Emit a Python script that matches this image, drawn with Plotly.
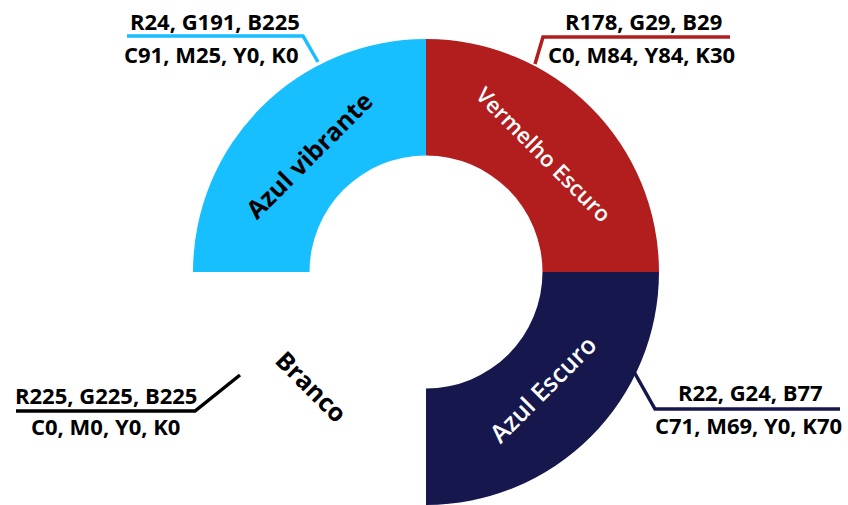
import plotly.graph_objects as go

labels = ["Vermelho Escuro", "Azul Escuro", "Branco", "Azul vibrante"]
values = [1, 1, 1, 1]
colors = ["rgb(178,29,29)", "rgb(22,24,77)", "rgb(255,255,255)", "rgb(24,191,255)"]
text_colors = ["white", "white", "black", "black"]
rgb_labels = ["R178, G29, B29", "R22, G24, B77", "R225, G225, B225", "R24, G191, B225"]
cmyk_labels = ["C0, M84, Y84, K30", "C71, M69, Y0, K70", "C0, M0, Y0, K0", "C91, M25, Y0, K0"]
line_colors = ["rgb(178,29,29)", "rgb(22,24,77)", "black", "rgb(24,191,255)"]

W, H = 848, 505
fig = go.Figure()
fig.add_trace(go.Pie(
    labels=labels, values=values, sort=False, direction="clockwise", rotation=0,
    hole=0.5, marker=dict(colors=colors, line=dict(width=0)),
    textinfo="label", textposition="inside", insidetextorientation="tangential",
    insidetextfont=dict(family="Open Sans", size=[22, 25, 25, 25], color=text_colors,
                        weight=[600, 600, 700, 700]),
    domain=dict(x=[193 / W, 659 / W], y=[0, 466 / H]),
    showlegend=False, hoverinfo="skip",
))

def px(x):
    return x / W

def py(y):
    return 1 - y / H

# leader lines (pixel geometry -> paper)
leaders = [
    [(535, 64), (543, 37), (730, 37)],
    [(633, 370), (655, 409), (840, 409)],
    [(240, 375), (195, 411), (16, 411)],
    [(318, 62), (303, 36), (127, 36)],
]
for pts, c in zip(leaders, line_colors):
    path = "M " + " L ".join(f"{px(x)},{py(y)}" for x, y in pts)
    fig.add_shape(type="path", xref="paper", yref="paper", path=path,
                  line=dict(color=c, width=3.5))

rgb_pos = [(643, 21), (750, 392), (106, 395), (215, 21)]
cmyk_pos = [(641, 54), (748, 425), (105, 426), (211, 54)]
for t, (x, y) in zip(rgb_labels, rgb_pos):
    fig.add_annotation(text=t, x=px(x), y=py(y), xref="paper", yref="paper",
                       showarrow=False, xanchor="center", yanchor="middle",
                       font=dict(family="Open Sans", size=22, color="black", weight=700))
for t, (x, y) in zip(cmyk_labels, cmyk_pos):
    fig.add_annotation(text=t, x=px(x), y=py(y), xref="paper", yref="paper",
                       showarrow=False, xanchor="center", yanchor="middle",
                       font=dict(family="Open Sans", size=22, color="black", weight=700))

fig.update_layout(width=W, height=H, margin=dict(l=0, r=0, t=0, b=0),
                  paper_bgcolor="white", plot_bgcolor="white")
fig.write_html("out.html", config={"displayModeBar": False},
               post_script="document.body.style.margin='0';")
